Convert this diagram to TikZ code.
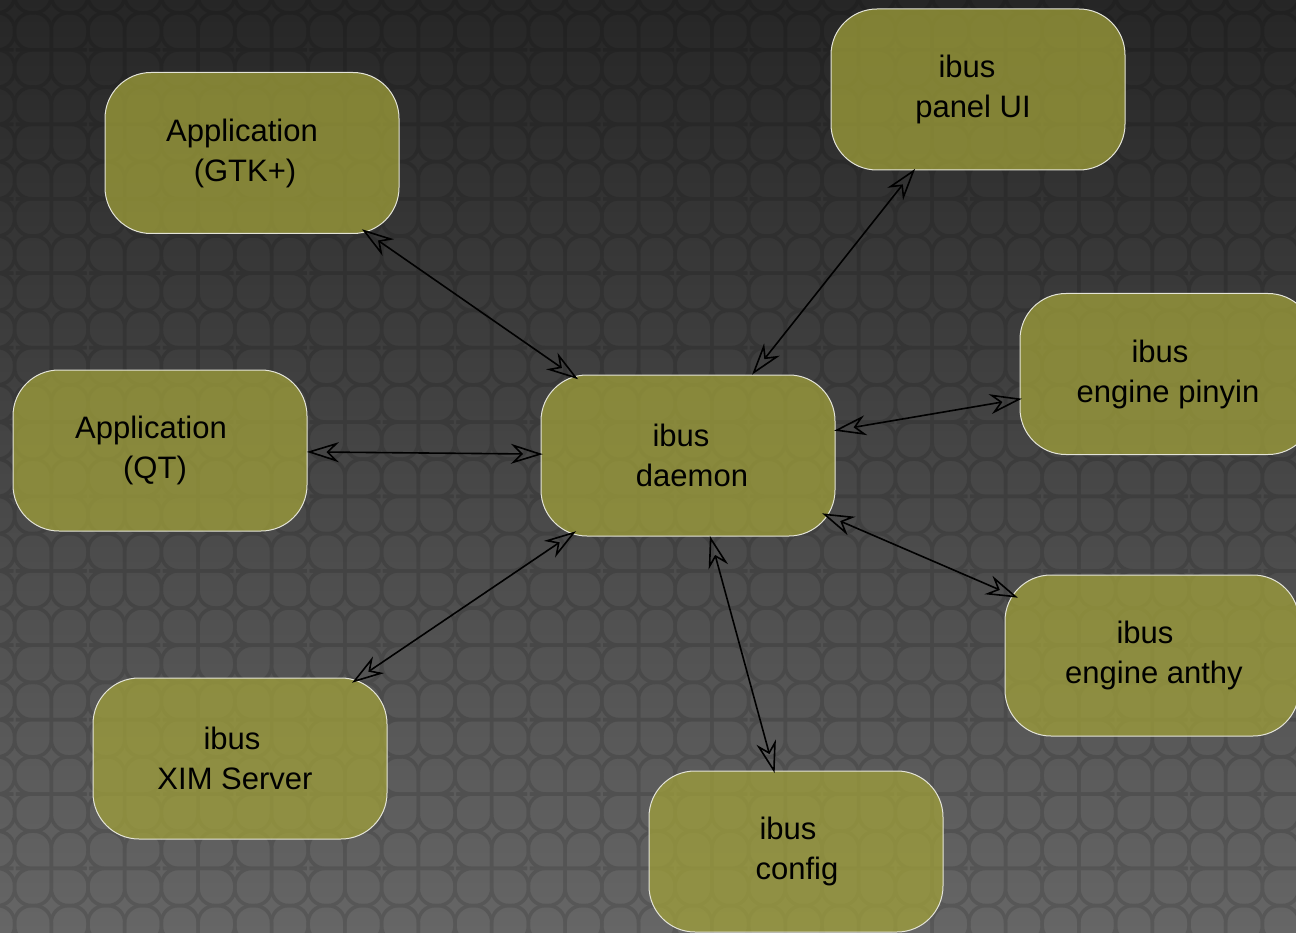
\documentclass[tikz,border=0pt]{standalone}
\usepackage{fontspec}
\setmainfont{Liberation Sans}
\usetikzlibrary{arrows.meta,calc}
\definecolor{bgtop}{HTML}{262626}
\definecolor{bgbot}{HTML}{666666}
\definecolor{boxfill}{HTML}{A0A03A}
\definecolor{boxline}{HTML}{E4E4D8}
\newcommand\tline[2]{\makebox[0pt][c]{\hspace*{#1pt}\hspace*{#1pt}#2}}
\begin{document}
\begin{tikzpicture}[x=1pt,y=-1pt,
  box/.style={draw=boxline, line width=1pt, fill=boxfill, fill opacity=0.75, text opacity=1,
    rounded corners=46pt, minimum width=294pt, minimum height=161pt, inner sep=0pt,
    align=center, font=\fontsize{31}{40}\selectfont, text=black},
  tipo/.tip={Stealth[open,length=32pt,width=20pt,inset=10pt]},
  link/.style={draw=black, line width=1.6pt, tipo-tipo},
  cell/.style={draw=black, line width=3.5pt}]
\useasboundingbox (0,0) rectangle (1296,933);
\clip (0,0) rectangle (1296,933);
\shade[top color=bgtop, bottom color=bgbot] (0,0) rectangle (1296,933);
\begin{scope}[transparency group, opacity=0.13]
\foreach \i in {0,...,18}{
  \foreach \j in {0,...,13}{
    \pgfmathsetmacro\cx{-22.1+73.4*\i}
    \pgfmathsetmacro\cy{-24.4+74.4*\j}
    \foreach \a/\b in {1/1,1/-1,-1/1,-1/-1}{
      \draw[cell] ({\cx+\a*18.35},\cy) [sharp corners] -- (\cx,\cy) -- (\cx,{\cy+\b*18.6})
        [rounded corners=17pt] -- (\cx,{\cy+\b*37.2}) -- ({\cx+\a*36.7},{\cy+\b*37.2})
        -- ({\cx+\a*36.7},\cy) -- cycle;
    }
  }
}
\end{scope}
\node[box] (gtk) at (252,153) {\tline{-10}{Application}\\\tline{-7}{(GTK+)}};
\node[box] (panel) at (978,89.5) {\tline{-11}{ibus}\\\tline{-5}{panel UI}};
\node[box] (pinyin) at (1167,374) {\tline{-7}{ibus}\\\tline{1}{engine pinyin}};
\node[box] (qt) at (160,450.5) {\tline{-9}{Application}\\\tline{-5}{(QT)}};
\node[box] (daemon) at (688,455.5) {\tline{-7}{ibus}\\\tline{4}{daemon}};
\node[box] (anthy) at (1152,655.5) {\tline{-7}{ibus}\\\tline{2}{engine anthy}};
\node[box] (xim) at (240,758.5) {\tline{-8}{ibus}\\\tline{-5}{XIM Server}};
\node[box] (config) at (796,851.5) {\tline{-8}{ibus}\\\tline{1}{config}};
\draw[link] ($(gtk)!0.252!(daemon)$) -- ($(gtk)!0.748!(daemon)$);
\draw[link] ($(panel)!0.217!(daemon)$) -- ($(panel)!0.779!(daemon)$);
\draw[link] ($(qt)!0.278!(daemon)$) -- ($(qt)!0.725!(daemon)$);
\draw[link] ($(pinyin)!0.303!(daemon)$) -- ($(pinyin)!0.695!(daemon)$);
\draw[link] ($(anthy)!0.289!(daemon)$) -- ($(anthy)!0.711!(daemon)$);
\draw[link] ($(xim)!0.25!(daemon)$) -- ($(xim)!0.75!(daemon)$);
\draw[link] ($(config)!0.198!(daemon)$) -- ($(config)!0.797!(daemon)$);
\end{tikzpicture}
\end{document}
